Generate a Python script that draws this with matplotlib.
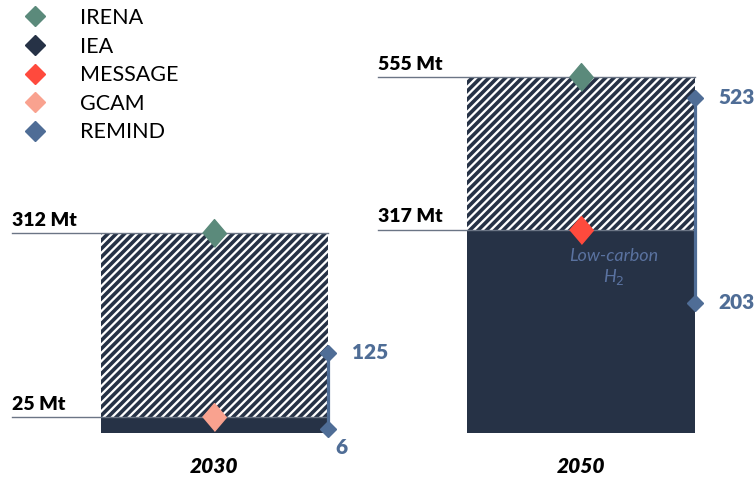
import matplotlib.pyplot as plt
from matplotlib.lines import Line2D

plt.rcParams['font.family'] = ['Lato', 'DejaVu Sans']
plt.rcParams['hatch.linewidth'] = 2.6

# data (Mt of hydrogen)
years = ['2030', '2050']
lowCarbon = [25, 317]       # low-carbon H2 (dark bar)
totalH2 = [312, 555]        # top of hatched range
irena = [312, 555]
message = [None, 317]
gcam = [25, None]
remindLow = [6, 203]
remindHigh = [125, 523]

navy = '#263246'
colors = {
    'IRENA': '#5b8a7b',
    'IEA': navy,
    'MESSAGE': '#ff4a3d',
    'GCAM': '#f9a28f',
    'REMIND': '#4f6d96',
}

fig = plt.figure(figsize=(7.54, 4.82), dpi=100)
ax = fig.add_axes([0, 0, 1, 1])
ax.set_xlim(-0.585, 1.472)
ax.set_ylim(-76.4, 675)
ax.axis('off')

barWidth = 0.62
xs = range(len(years))

diamond = [(-0.85, 0), (0, 1), (0.85, 0), (0, -1)]

for i in xs:
    # hatched range between low-carbon and total
    ax.bar(i, totalH2[i] - lowCarbon[i], bottom=lowCarbon[i], width=barWidth,
           color='white', edgecolor=navy, hatch='////', linewidth=0, zorder=1)
    ax.bar(i, lowCarbon[i], width=barWidth, color=navy, linewidth=0, zorder=2)

    # reference lines with labels
    for val in (lowCarbon[i], totalH2[i]):
        ax.plot([i - 0.553, i + barWidth / 2], [val, val], color='#6b7585', lw=1.0, zorder=3)
        ax.annotate(f'{val} Mt', (i - 0.553, val), xytext=(0, 3), textcoords='offset points',
                    ha='left', va='bottom', fontsize=14, fontweight='heavy', color='black')

    # REMIND range at right edge of bar
    xr = i + barWidth / 2
    ax.plot([xr, xr], [remindLow[i], remindHigh[i]], color=colors['REMIND'], lw=2.3, zorder=4)
    ax.plot([xr, xr], [remindLow[i], remindHigh[i]], linestyle='none', marker='D',
            markersize=8.5, color=colors['REMIND'], zorder=5)
    ax.annotate(str(remindHigh[i]), (xr, remindHigh[i]), xytext=(17, 0), textcoords='offset points',
                ha='left', va='center', fontsize=15, fontweight='heavy', color=colors['REMIND'])

    # model points
    if irena[i] is not None:
        ax.plot(i, irena[i], linestyle='none', marker=diamond, markersize=20,
                color=colors['IRENA'], zorder=6)
    if message[i] is not None:
        ax.plot(i, message[i], linestyle='none', marker=diamond, markersize=20,
                color=colors['MESSAGE'], zorder=6)
    if gcam[i] is not None:
        ax.plot(i, gcam[i], linestyle='none', marker=diamond, markersize=20,
                color=colors['GCAM'], zorder=6)

    ax.text(i, -53, years[i], ha='center', va='center', fontsize=15,
            fontweight='heavy', fontstyle='italic', color='black')

# lower REMIND labels
ax.annotate(str(remindLow[0]), (barWidth / 2, remindLow[0]), xytext=(5, -13), textcoords='offset points',
            ha='left', va='center', fontsize=15, fontweight='heavy', color=colors['REMIND'])
ax.annotate(str(remindLow[1]), (1 + barWidth / 2, remindLow[1]), xytext=(17, 0), textcoords='offset points',
            ha='left', va='center', fontsize=15, fontweight='heavy', color=colors['REMIND'])

ax.text(1.09, 258, 'Low-carbon\nH$_2$', ha='center', va='center', fontsize=13,
        fontstyle='italic', color='#5a72a0', linespacing=1.25, zorder=7)

handles = [Line2D([], [], linestyle='none', marker='D', markersize=10, color=c, label=n)
           for n, c in colors.items()]
ax.legend(handles=handles, loc='upper left', bbox_to_anchor=(25 / 754, 1 - 8 / 482),
          bbox_transform=fig.transFigure, frameon=False, fontsize=15.5,
          handlelength=0.9, handletextpad=1.65, labelspacing=0.4,
          borderpad=0, borderaxespad=0)

fig.savefig('out.png', dpi=100)
